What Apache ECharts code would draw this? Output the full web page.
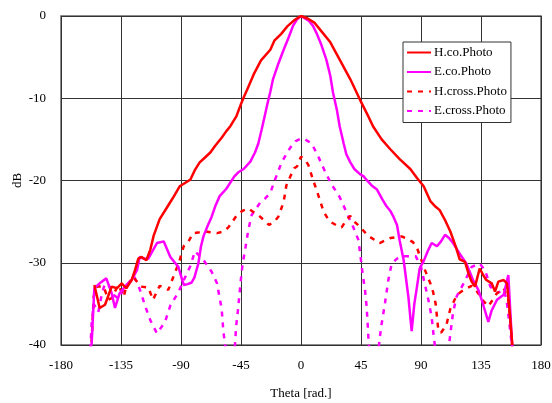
<!DOCTYPE html>
<html><head><meta charset="utf-8">
<script src="https://cdn.jsdelivr.net/npm/echarts@6/dist/echarts.min.js"></script>
<style>html,body{margin:0;padding:0;background:#fff}#c{width:552px;height:403px}</style>
</head><body><div id="c"></div>
<script>
const xTicks = [-180,-135,-90,-45,0,45,90,135,180];
const yTicks = [-40,-30,-20,-10,0];

const hCoTheta = [-155,-151,-147,-142,-138,-134.5,-131,-127,-124.5,-122,-119.5,-116,-113,-110.5,-106,-101,-96,-91,-87,-83,-79.5,-76,-72,-68,-64.5,-59.5,-56,-53,-48.5,-45,-43,-40.5,-35.5,-30,-23,-20,-15,-10.5,-5,0,5,10,14,22,29,37,44,50.5,54,60.5,67,74,82,87,92,97,101,104,108,112,116,119,123,126,128,130.5,134,137,139,143,145.5,148,152,154.5,156.5,158.5];
const hCoDb = [-32.7,-35.5,-35.1,-32.9,-33.1,-32.5,-33.1,-32.1,-30.9,-29.5,-29.3,-29.7,-28.4,-26.7,-24.7,-23.4,-22.1,-20.7,-20.3,-19.9,-18.7,-17.8,-17.2,-16.6,-15.8,-14.8,-14.0,-13.4,-12.2,-10.7,-9.9,-9.0,-7.1,-5.4,-4.1,-3.0,-2.2,-1.3,-0.5,0,-0.3,-0.8,-1.6,-3.2,-5.3,-7.7,-10.1,-12.2,-13.4,-15.0,-16.2,-17.4,-18.6,-19.7,-20.7,-22.5,-23.2,-23.6,-24.8,-26.2,-28.0,-29.6,-29.9,-31.5,-32.3,-32.9,-30.7,-31.6,-32.1,-32.5,-33.5,-32.3,-32.1,-32.5,-36,-40];

const eCoTheta = [-158,-157,-155,-151,-146,-142,-139.5,-136,-131,-127,-123,-121,-118,-114.5,-108,-103,-98,-92,-88,-85,-82,-80,-77,-75,-73,-70,-67,-64,-61,-56,-50,-47,-43,-38,-34.5,-32,-29.5,-27,-25.5,-23,-21,-17,-13,-9,-6,-3,0,3,6,9,12,15,19,22,24,27,29,32,34,37,40,44,47,49,53,57,61,64,67,69,72,74,77,80.5,83,85,87,89,92,95,98,102,105,108,111,114,119,124,129,133,135.5,140.5,143,147,152,155.5,157,158.5];
const eCoDb = [-40.5,-39.8,-33.1,-32.5,-31.9,-33.7,-35.5,-33.7,-32.7,-32.1,-30.9,-29.3,-29.5,-29.5,-27.6,-27.4,-29.3,-30.5,-32.7,-32.6,-32.4,-31.8,-30.1,-28.0,-26.7,-25.5,-24.4,-23.0,-21.9,-21.0,-19.5,-19.0,-18.6,-17.7,-16.6,-15.5,-13.8,-12.0,-10.9,-9.2,-7.7,-5.8,-4.1,-2.5,-1.2,-0.4,0,-0.3,-0.6,-1.2,-2.2,-3.4,-5.3,-7.3,-9.3,-11.5,-13.4,-15.5,-16.8,-17.8,-18.6,-19.2,-19.5,-19.9,-20.6,-21.1,-22.3,-23.1,-23.7,-24.3,-25.4,-27.3,-29.7,-34.1,-38.3,-35,-32.9,-30.7,-29.8,-28.6,-27.6,-28.0,-27.4,-26.6,-27.0,-27.6,-28.9,-30.1,-32.1,-33.3,-34.5,-37.2,-35.8,-34.5,-33.9,-31.5,-36,-40.5];

const hCrTheta = [-157.5,-156.5,-155.5,-153,-148,-144.5,-142,-137,-133,-131,-126,-120,-114.5,-111,-106,-99.5,-94.5,-91,-88,-85,-81,-76,-72,-68,-63,-58,-54.5,-51,-48,-44,-39.5,-36,-32,-28,-24,-20,-17,-13,-11,-8,-5,-3,0,3,5.5,9,13,17,20,23,27,30.5,34,37,40,44,48,51,55,59,63,67,71,75.5,80,84,87,89,93,97,99,101,103,105,109,112,117,122,128,132,137,140.5,147,152,155.5,157,158.5];
const hCrDb = [-41,-37.8,-34.1,-32.9,-32.9,-34.5,-34.3,-32.7,-34.1,-32.9,-31.7,-32.9,-33.0,-34.5,-32.8,-33.3,-31.2,-29.7,-28.0,-27.6,-26.4,-26.3,-26.2,-26.3,-26.4,-26.2,-25.7,-24.9,-24.2,-23.7,-23.4,-23.8,-24.2,-24.8,-25.4,-25.0,-24.4,-22.6,-20.6,-19.5,-18.5,-18.3,-17.1,-17.5,-18.1,-19.9,-21.8,-23.8,-24.6,-25.1,-25.5,-25.7,-24.8,-24.3,-25.0,-25.6,-26.3,-26.8,-27.2,-27.6,-27.3,-27.0,-26.9,-26.8,-27.1,-27.5,-28.2,-29.1,-30.9,-32.5,-33.5,-35.0,-38.2,-38.5,-37.6,-35.6,-33.9,-33.3,-32.8,-33.5,-34.7,-35.3,-33.7,-33.1,-34.5,-37,-40.5];

const eCrTheta = [-158,-157,-155.5,-152,-149.5,-147,-144,-140,-137,-133,-129,-125,-121,-117,-113,-108,-102,-98,-92,-87,-83,-79.5,-76,-73,-67,-63,-61,-59.5,-58.3,-57,-53,-49.5,-48.7,-47.5,-46.2,-45,-43.7,-41.5,-39.5,-37,-34.5,-30.7,-27,-23,-19.5,-14.5,-11,-8,-4,0,3,8,13,18,23,29,34,39,43,44.7,46.2,48,49.2,50,50.5,51,55,58.5,59,60.5,63,65.5,68,72,78,86,90,93,95.5,98,99.3,100.5,106,111,112.5,114,116.7,122,128,134,138,142,147,152,154.2,156,158];
const eCrDb = [-40.5,-37.4,-35.0,-36.0,-33.9,-32.5,-32.8,-34.0,-34.3,-33.3,-32.5,-31.7,-33.2,-35.2,-37.0,-38.6,-37.2,-35.2,-33.6,-31.8,-30.4,-28.6,-29.2,-29.7,-31.1,-32.5,-34.3,-35.6,-38.2,-40,-42,-40,-37.8,-36.1,-33.9,-31.9,-30.1,-28.0,-26.0,-24.2,-23.6,-22.7,-22.2,-21.5,-19.9,-17.8,-16.8,-16.0,-15.2,-14.9,-15.0,-15.5,-17.1,-18.9,-20.5,-22.0,-23.8,-25.6,-27.2,-29.3,-31.3,-33.3,-35.3,-37.4,-39.0,-40.5,-42,-40,-39.2,-37.4,-34.9,-32.1,-30.1,-29.5,-29.2,-29.2,-30.5,-32.7,-34.5,-36.6,-38.6,-40.2,-42,-40,-38,-36.1,-34.1,-32.5,-30.5,-30.1,-30.9,-32.9,-33.7,-33.3,-34.5,-37,-39.8];

const zip = (a, b) => a.map((v, i) => [v, b[i]]);
const RED = '#ff0000', MAG = '#ff00ff';
const FONT = 'Liberation Serif';

const chart = echarts.init(document.getElementById('c'), null, {renderer: 'canvas'});
chart.setOption({
  animation: false,
  backgroundColor: '#fff',
  textStyle: {fontFamily: FONT, color: '#000'},
  grid: {left: 61, right: 11, top: 16, bottom: 58, show: true, borderColor: '#666', borderWidth: 1.5,
         containLabel: false, outerBoundsMode: 'none'},
  legend: {
    orient: 'vertical', left: 403, top: 42, itemWidth: 24, itemHeight: 14, itemGap: 6.5,
    padding: [4, 4, 5, 3], borderColor: '#333', borderWidth: 1, backgroundColor: '#fff',
    itemStyle: {opacity: 0},
    textStyle: {fontFamily: FONT, fontSize: 13, color: '#000', padding: [0, 0, 0, -2]},
    data: ['H.co.Photo', 'E.co.Photo', 'H.cross.Photo', 'E.cross.Photo']
  },
  xAxis: {
    type: 'value', min: xTicks[0], max: xTicks[xTicks.length - 1], interval: 45,
    name: 'Theta [rad.]', nameLocation: 'middle', nameGap: 42, nameMoveOverlap: false,
    nameTextStyle: {fontFamily: FONT, fontSize: 13, color: '#000'},
    axisLine: {show: false}, axisTick: {show: false},
    axisLabel: {fontFamily: FONT, fontSize: 13, color: '#000', margin: 14},
    splitLine: {show: true, lineStyle: {color: '#333', width: 1}}
  },
  yAxis: {
    type: 'value', min: yTicks[0], max: yTicks[yTicks.length - 1], interval: 10,
    name: 'dB', nameLocation: 'middle', nameGap: 37, nameMoveOverlap: false,
    nameTextStyle: {fontFamily: FONT, fontSize: 13, color: '#000'},
    axisLine: {show: false}, axisTick: {show: false},
    axisLabel: {fontFamily: FONT, fontSize: 13, color: '#000', margin: 15},
    splitLine: {show: true, lineStyle: {color: '#333', width: 1}}
  },
  series: [
    {name: 'H.co.Photo', type: 'line', symbol: 'none', clip: true, z: 4,
     lineStyle: {color: RED, width: 2.5}, itemStyle: {color: RED}, data: zip(hCoTheta, hCoDb)},
    {name: 'E.co.Photo', type: 'line', symbol: 'none', clip: true, z: 3,
     lineStyle: {color: MAG, width: 2.5}, itemStyle: {color: MAG}, data: zip(eCoTheta, eCoDb)},
    {name: 'H.cross.Photo', type: 'line', symbol: 'none', clip: true, z: 2,
     lineStyle: {color: RED, width: 2.5, type: [5, 6]}, itemStyle: {color: RED}, data: zip(hCrTheta, hCrDb)},
    {name: 'E.cross.Photo', type: 'line', symbol: 'none', clip: true, z: 1,
     lineStyle: {color: MAG, width: 2.5, type: [5, 6]}, itemStyle: {color: MAG}, data: zip(eCrTheta, eCrDb)}
  ]
});
</script></body></html>
